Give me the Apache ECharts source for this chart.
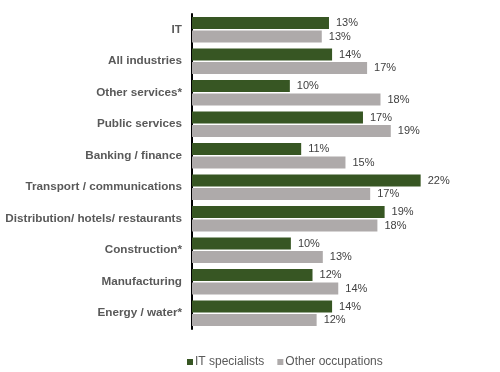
<!DOCTYPE html>
<html>
<head>
<meta charset="utf-8">
<script src="https://cdn.jsdelivr.net/npm/echarts@6/dist/echarts.min.js"></script>
<style>
html,body{margin:0;padding:0;background:#fff;}
#chart{width:500px;height:372px;}
</style>
</head>
<body>
<div id="chart"></div>
<script>
var categories = ["IT", "All industries", "Other services*", "Public services", "Banking / finance",
  "Transport / communications", "Distribution/ hotels/ restaurants", "Construction*", "Manufacturing", "Energy / water*"];
var itSpecialists = [13.3, 13.6, 9.5, 16.6, 10.6, 22.2, 18.7, 9.6, 11.7, 13.6];
var otherOccupations = [12.6, 17.0, 18.3, 19.3, 14.9, 17.3, 18.0, 12.7, 14.2, 12.1];
var seriesNames = ["IT specialists", "Other occupations"];

var chart = echarts.init(document.getElementById('chart'), null, {renderer: 'canvas'});
var font = "'Liberation Sans', Arial, sans-serif";
var labelCfg = {
  show: true, position: 'right', distance: 7,
  color: '#404040', fontSize: 11, fontFamily: font,
  formatter: function (p) { return Math.round(p.value) + '%'; }
};
chart.setOption({
  animation: false,
  backgroundColor: '#ffffff',
  grid: {left: 192, top: 14, bottom: 43, width: 257.5, containLabel: false},
  xAxis: {type: 'value', min: 0, max: 25, show: false},
  yAxis: {
    type: 'category', data: categories, inverse: true,
    axisLine: {show: true, lineStyle: {color: '#000000', width: 2}},
    axisTick: {show: false},
    axisLabel: {color: '#595959', fontSize: 11.7, fontWeight: 'bold', fontFamily: font, margin: 10}
  },
  legend: {
    left: 182, top: 351, itemWidth: 6, itemHeight: 6, itemGap: 13,
    icon: 'rect',
    textStyle: {color: '#595959', fontSize: 12, fontFamily: font, padding: [0, 0, 0, -3]},
    data: seriesNames
  },
  series: [
    {name: seriesNames[0], type: 'bar', data: itSpecialists, barWidth: 12, barGap: '12%',
     itemStyle: {color: '#375623'}, label: labelCfg},
    {name: seriesNames[1], type: 'bar', data: otherOccupations, barWidth: 12, barGap: '12%',
     itemStyle: {color: '#AEAAAA'}, label: labelCfg}
  ]
});
</script>
</body>
</html>
